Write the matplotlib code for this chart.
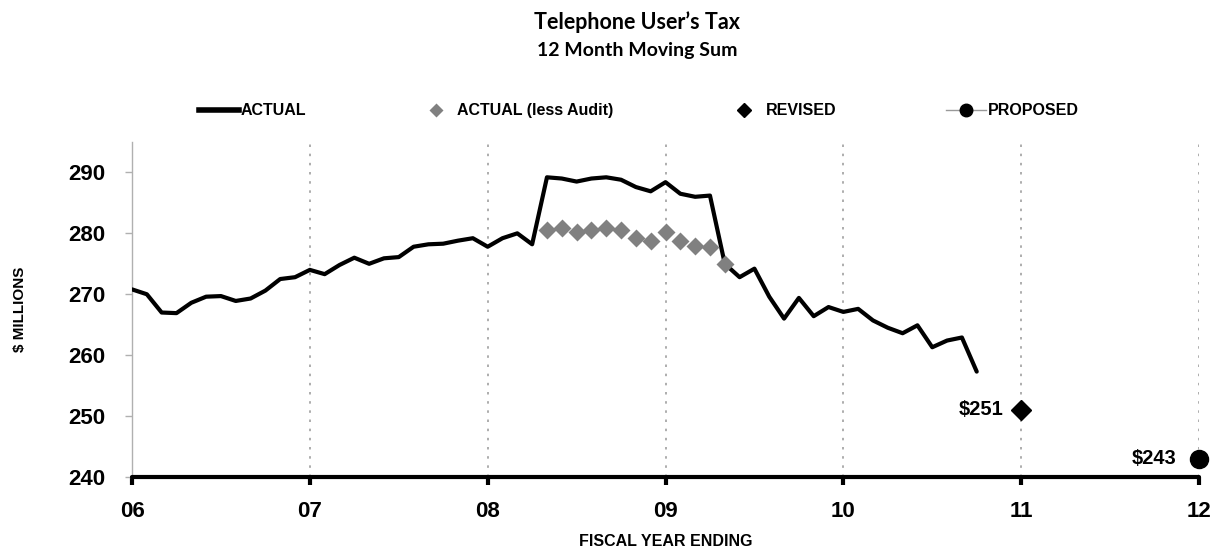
import numpy as np
import matplotlib
matplotlib.use("Agg")
import matplotlib.pyplot as plt
from matplotlib.lines import Line2D

# monthly 12-month moving sum, fiscal years 06 .. 10.75
months = np.arange(58)
actual = [270.8, 270.0, 267.0, 266.9, 268.6, 269.6, 269.7, 268.9, 269.3, 270.6,
          272.5, 272.8, 274.0, 273.3, 274.8, 276.0, 275.0, 275.9, 276.1, 277.8,
          278.2, 278.3, 278.8, 279.2, 277.8, 279.2, 280.0, 278.2, 289.2, 289.0,
          288.5, 289.0, 289.2, 288.8, 287.6, 286.9, 288.4, 286.5, 286.0, 286.2,
          275.0, 272.8, 274.2, 269.6, 266.0, 269.4, 266.4, 267.9, 267.1, 267.6,
          265.7, 264.5, 263.6, 264.9, 261.3, 262.4, 262.9, 257.3]

# actual less audit adjustments, months 28 .. 40
audit_months = np.arange(28, 41)
less_audit = [280.5, 280.8, 280.3, 280.6, 280.8, 280.6, 279.3, 278.7, 280.3,
              278.7, 278.0, 277.7, 275.0]

revised_year = 11
revised = 251
proposed_year = 12
proposed = 243

years = [6, 7, 8, 9, 10, 11, 12]
year_labels = ["06", "07", "08", "09", "10", "11", "12"]
yticks = [240, 250, 260, 270, 280, 290]

x_actual = 6 + months / 12
x_audit = 6 + audit_months / 12

fig = plt.figure(figsize=(12.19, 5.52), dpi=100)
ax = fig.add_axes([0.1083, 0.1359, 0.8753, 0.6069])

ax.plot(x_actual, actual, color="black", lw=3, solid_joinstyle="round",
        solid_capstyle="round", zorder=3)
ax.plot(x_audit, less_audit, "D", color="#808080", ms=9.5, mec="none", zorder=4)
ax.plot([revised_year], [revised], "D", color="black", ms=10.5, zorder=4,
        clip_on=False)
ax.plot([proposed_year], [proposed], "o", color="black", ms=13, zorder=6,
        clip_on=False)

ax.annotate("$%d" % revised, (revised_year, revised), xytext=(-13, 0),
            textcoords="offset points", ha="right", va="center",
            fontsize=14.5, fontweight="bold", family="Liberation Sans")
ax.annotate("$%d" % proposed, (proposed_year, proposed), xytext=(-16.5, 0),
            textcoords="offset points", ha="right", va="center",
            fontsize=14.5, fontweight="bold", family="Liberation Sans")

ax.set_xlim(6, 12)
ax.set_ylim(240, 295)
ax.set_xticks(years)
ax.set_xticklabels(year_labels)
ax.set_yticks(yticks)

for sp in ["top", "right"]:
    ax.spines[sp].set_visible(False)
ax.spines["left"].set_color("#b0b0b0")
ax.spines["left"].set_linewidth(1)
ax.spines["bottom"].set_color("black")
ax.spines["bottom"].set_linewidth(3)
ax.spines["bottom"].set_capstyle("round")
ax.spines["bottom"].set_zorder(5)

ax.tick_params(axis="x", direction="out", length=6, width=3, color="black",
               pad=11, labelsize=16)
ax.tick_params(axis="y", direction="out", length=5, width=1, color="#b0b0b0",
               pad=14, labelsize=16)
for lab in ax.get_xticklabels() + ax.get_yticklabels():
    lab.set_fontweight("bold")
    lab.set_family("Liberation Sans")

ax.grid(axis="x", color="#a0a0a0", linestyle=(0, (1.5, 4)), lw=1.2)
ax.set_axisbelow(True)

ax.set_xlabel("FISCAL YEAR ENDING", fontsize=11.5, fontweight="bold",
              family="Liberation Sans", labelpad=9)
ax.set_ylabel("$ MILLIONS", fontsize=11, fontweight="bold",
              family="Liberation Sans")
ax.yaxis.set_label_coords(-0.098, 0.5)

fig.text(0.5226, 0.9475, "Telephone User\u2019s Tax", ha="center",
         va="baseline", fontsize=15.5, fontweight="bold", family="Lato")
fig.text(0.5226, 0.8986, "12 Month Moving Sum", ha="center", va="baseline",
         fontsize=14, fontweight="bold", family="Lato")

handles = [
    Line2D([], [], color="black", lw=4),
    Line2D([], [], ls="none", marker="D", color="#808080", ms=7.5, mec="none"),
    Line2D([], [], ls="none", marker="D", color="black", ms=7.5),
    Line2D([], [], color="#999999", lw=1, marker="o", ms=9, mfc="black",
           mec="black"),
]
labels = ["ACTUAL", "ACTUAL (less Audit)", "REVISED", "PROPOSED"]
leg = fig.legend(handles, labels, loc="center", bbox_to_anchor=(0.524, 0.799),
                 ncol=4, frameon=False, handlelength=2.5, handletextpad=0.1,
                 columnspacing=6.9,
                 prop={"family": "Liberation Sans", "weight": "bold",
                       "size": 11.5})

fig.savefig("out.png", dpi=100)
